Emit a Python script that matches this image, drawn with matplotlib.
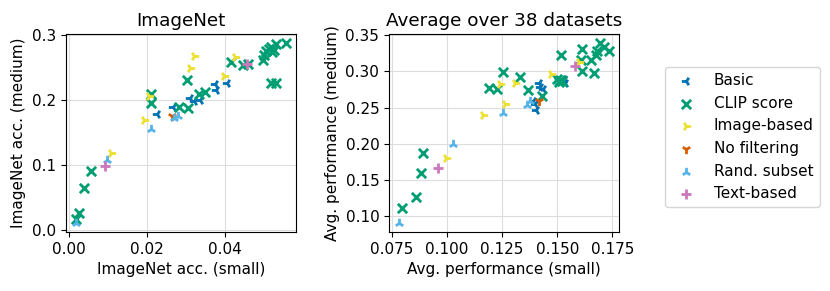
import matplotlib
matplotlib.use("Agg")
import matplotlib.pyplot as plt

categories = ["Basic", "CLIP score", "Image-based", "No filtering", "Rand. subset", "Text-based"]
colors = ["#0173b2", "#029e73", "#ece133", "#d55e00", "#56b4e9", "#cc78bc"]
markers = ["3", "x", "4", "1", "2", "+"]

# ImageNet (small, medium)
imnet_small = {
    "Basic": [0.0225, 0.0267, 0.0310, 0.0322, 0.0336, 0.0375, 0.0378, 0.0405],
    "CLIP score": [0.0019, 0.0026, 0.0040, 0.0056, 0.0210, 0.0212, 0.0303, 0.0282, 0.0305,
                   0.0335, 0.0350, 0.0416, 0.0446, 0.0460, 0.0497, 0.0500, 0.0506, 0.0512,
                   0.0518, 0.0521, 0.0525, 0.0530, 0.0556, 0.0519, 0.0530],
    "Image-based": [0.0194, 0.0205, 0.0109, 0.0311, 0.0322, 0.0399, 0.0427],
    "No filtering": [0.0265],
    "Rand. subset": [0.0020, 0.0098, 0.0212, 0.0271, 0.0280],
    "Text-based": [0.0092, 0.0456],
}
imnet_medium = {
    "Basic": [0.179, 0.189, 0.203, 0.198, 0.200, 0.225, 0.215, 0.226],
    "CLIP score": [0.016, 0.026, 0.064, 0.091, 0.209, 0.196, 0.231, 0.189, 0.188,
                   0.210, 0.212, 0.259, 0.254, 0.256, 0.262, 0.270, 0.275, 0.279,
                   0.282, 0.274, 0.278, 0.287, 0.288, 0.227, 0.227],
    "Image-based": [0.169, 0.207, 0.118, 0.249, 0.268, 0.237, 0.267],
    "No filtering": [0.176],
    "Rand. subset": [0.010, 0.108, 0.155, 0.172, 0.175],
    "Text-based": [0.099, 0.255],
}
# Average over 38 datasets (small, medium)
avg_small = {
    "Basic": [0.1416, 0.1424, 0.1435, 0.1398, 0.1404, 0.1529, 0.1537, 0.1392],
    "CLIP score": [0.0798, 0.0861, 0.0884, 0.0892, 0.1191, 0.1227, 0.1256, 0.1331, 0.1366,
                   0.1431, 0.1500, 0.1507, 0.1512, 0.1519, 0.1614, 0.1606, 0.1614, 0.1651,
                   0.1674, 0.1681, 0.1696, 0.1711, 0.1734, 0.1668, 0.1520],
    "Image-based": [0.0995, 0.1164, 0.1240, 0.1310, 0.1262, 0.1474, 0.1599],
    "No filtering": [0.1416],
    "Rand. subset": [0.0786, 0.1028, 0.1253, 0.1364, 0.1379],
    "Text-based": [0.0960, 0.1579],
}
avg_medium = {
    "Basic": [0.284, 0.279, 0.2755, 0.2555, 0.2473, 0.290, 0.284, 0.259],
    "CLIP score": [0.111, 0.126, 0.160, 0.188, 0.277, 0.276, 0.299, 0.292, 0.274,
                   0.266, 0.290, 0.2855, 0.288, 0.322, 0.331, 0.315, 0.300, 0.316,
                   0.322, 0.328, 0.339, 0.333, 0.328, 0.298, 0.286],
    "Image-based": [0.180, 0.2395, 0.283, 0.284, 0.255, 0.297, 0.313],
    "No filtering": [0.259],
    "Rand. subset": [0.0905, 0.200, 0.242, 0.254, 0.2587],
    "Text-based": [0.166, 0.307],
}

plt.rcParams["font.size"] = 11

fig = plt.figure(figsize=(8.3, 2.91), dpi=100)
ax1 = fig.add_axes([0.079, 0.202, 0.278, 0.681])
ax2 = fig.add_axes([0.4687, 0.202, 0.2775, 0.681])

for ax, xs, ys in [(ax1, imnet_small, imnet_medium), (ax2, avg_small, avg_medium)]:
    for cat, col, mk in zip(categories, colors, markers):
        ax.scatter(xs[cat], ys[cat], c=col, marker=mk, s=45, linewidths=2, label=cat, zorder=3)
    ax.grid(True, color="#dddddd", linewidth=0.8, zorder=0)
    ax.set_axisbelow(True)

ax1.set_title("ImageNet", fontsize=13.2)
ax1.set_xlabel("ImageNet acc. (small)")
ax1.set_ylabel("ImageNet acc. (medium)")
ax1.set_xticks([0.00, 0.02, 0.04])
ax1.set_yticks([0.0, 0.1, 0.2, 0.3])

ax2.set_title("Average over 38 datasets", fontsize=13.2)
ax2.set_xlabel("Avg. performance (small)")
ax2.set_ylabel("Avg. performance (medium)")
ax2.set_xticks([0.075, 0.100, 0.125, 0.150, 0.175])
ax2.set_yticks([0.10, 0.15, 0.20, 0.25, 0.30, 0.35])

handles, labels = ax2.get_legend_handles_labels()
fig.legend(handles, labels, loc="upper left", bbox_to_anchor=(0.801, 0.770), fontsize=11,
           frameon=True, borderaxespad=0)

fig.savefig("out.png", dpi=100)
